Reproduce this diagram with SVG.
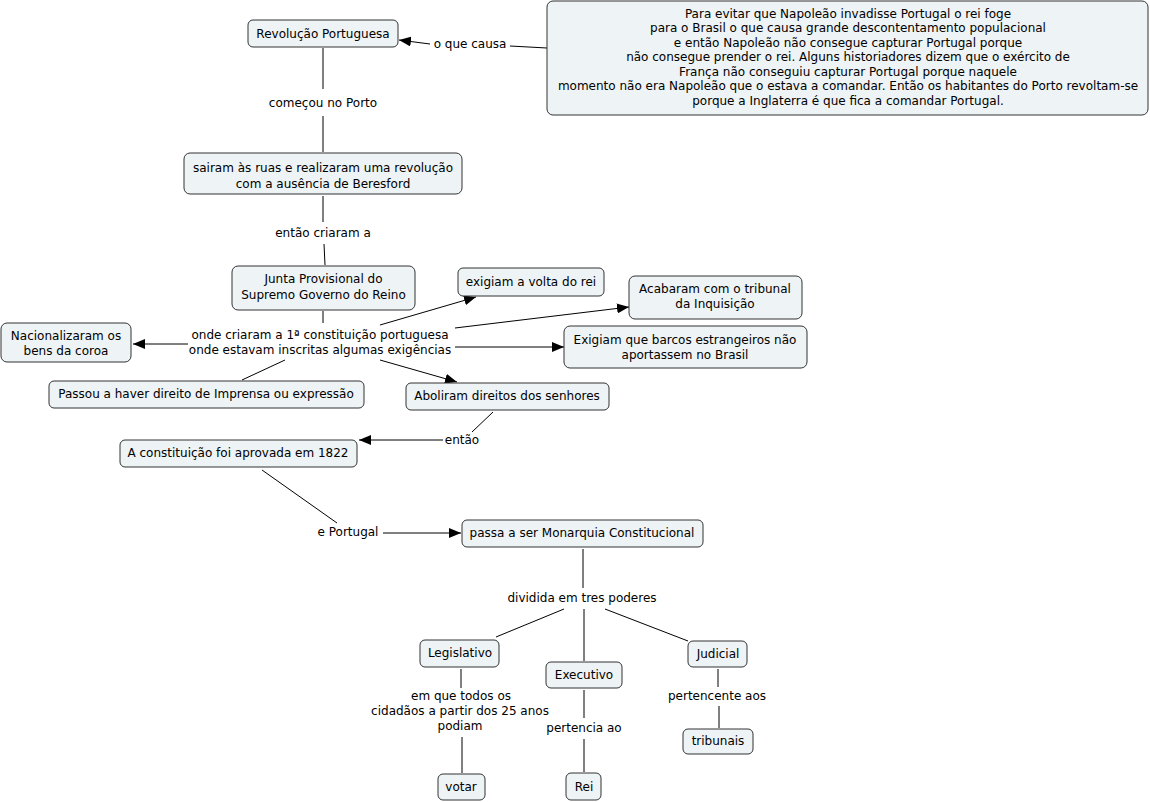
<svg xmlns="http://www.w3.org/2000/svg" width="1150" height="802" viewBox="0 0 1150 802">
<defs>
<marker id="arr" viewBox="0 0 12 10" refX="12" refY="5" markerWidth="12" markerHeight="10" markerUnits="userSpaceOnUse" orient="auto">
<path d="M0,0 L12,5 L0,10 z" fill="#000"/>
</marker>
</defs>
<style>
.box{fill:#eef3f5;stroke:#333;stroke-width:1}
text{font-family:"DejaVu Sans","Verdana",sans-serif;font-size:12px;fill:#000;text-anchor:middle}
.ln{stroke:#000;stroke-width:1;fill:none}
.ar{stroke:#000;stroke-width:1;fill:none;marker-end:url(#arr)}
</style>
<rect width="1150" height="802" fill="#fff"/>
<g id="connectors">
<line class="ar" x1="430" y1="44" x2="399" y2="40"/>
<line class="ln" x1="510" y1="46" x2="547" y2="48"/>
<line class="ln" x1="323" y1="48" x2="323" y2="89"/>
<line class="ln" x1="323" y1="116" x2="323" y2="152"/>
<line class="ln" x1="323" y1="196" x2="323" y2="222"/>
<line class="ln" x1="324" y1="244" x2="325" y2="265"/>
<line class="ln" x1="323" y1="311" x2="323" y2="323"/>
<line class="ar" x1="380" y1="325" x2="476" y2="297"/>
<line class="ar" x1="455" y1="328" x2="629" y2="307"/>
<line class="ar" x1="455" y1="347" x2="564" y2="347"/>
<line class="ar" x1="380" y1="360" x2="457" y2="382"/>
<line class="ar" x1="188" y1="344" x2="133" y2="344"/>
<line class="ln" x1="285" y1="360" x2="242" y2="380"/>
<line class="ln" x1="493" y1="412" x2="472" y2="432"/>
<line class="ar" x1="443" y1="440" x2="359" y2="440"/>
<line class="ln" x1="262" y1="470" x2="337" y2="523"/>
<line class="ar" x1="383" y1="533" x2="461" y2="533"/>
<line class="ln" x1="583" y1="549" x2="583" y2="588"/>
<line class="ln" x1="564" y1="609" x2="496" y2="637"/>
<line class="ln" x1="584" y1="609" x2="584" y2="661"/>
<line class="ln" x1="605" y1="609" x2="688" y2="641"/>
<line class="ln" x1="461" y1="669" x2="461" y2="688"/>
<line class="ln" x1="462" y1="737" x2="462" y2="773"/>
<line class="ln" x1="584" y1="690" x2="584" y2="718"/>
<line class="ln" x1="584" y1="739" x2="584" y2="772"/>
<line class="ln" x1="718" y1="669" x2="718" y2="687"/>
<line class="ln" x1="719" y1="706" x2="719" y2="728"/>
</g>
<g id="link-labels">
<text x="470" y="48">o que causa</text>
<text x="323" y="107">começou no Porto</text>
<text x="323" y="237">então criaram a</text>
<text x="320" y="339">onde criaram a 1ª constituição portuguesa</text>
<text x="320" y="354">onde estavam inscritas algumas exigências</text>
<text x="462" y="444">então</text>
<text x="348" y="536">e Portugal</text>
<text x="582" y="602">dividida em tres poderes</text>
<text x="461" y="700">em que todos os</text>
<text x="460" y="715">cidadãos a partir dos 25 anos</text>
<text x="460" y="730">podiam</text>
<text x="584" y="732">pertencia ao</text>
<text x="717" y="700">pertencente aos</text>
</g>
<g id="n-revolucao">
<rect class="box" x="248" y="20" width="150" height="27" rx="5"/>
<text x="323" y="38">Revolução Portuguesa</text>
</g>
<g id="n-napoleao">
<rect class="box" x="547" y="1" width="601" height="114" rx="6"/>
<text x="848" y="18">Para evitar que Napoleão invadisse Portugal o rei foge</text>
<text x="848" y="32">para o Brasil o que causa grande descontentamento populacional</text>
<text x="848" y="47">e então Napoleão não consegue capturar Portugal porque</text>
<text x="848" y="61">não consegue prender o rei. Alguns historiadores dizem que o exército de</text>
<text x="848" y="76">França não conseguiu capturar Portugal porque naquele</text>
<text x="848" y="90">momento não era Napoleão que o estava a comandar. Então os habitantes do Porto revoltam-se</text>
<text x="848" y="105">porque a Inglaterra é que fica a comandar Portugal.</text>
</g>
<g id="n-sairam">
<rect class="box" x="184" y="153" width="278" height="41" rx="6"/>
<text x="323" y="172">sairam às ruas e realizaram uma revolução</text>
<text x="323" y="188">com a ausência de Beresford</text>
</g>
<g id="n-junta">
<rect class="box" x="232" y="266" width="183" height="44" rx="6"/>
<text x="323.5" y="283">Junta Provisional do</text>
<text x="323.5" y="299">Supremo Governo do Reino</text>
</g>
<g id="n-exigiam-rei">
<rect class="box" x="458" y="268" width="146" height="28" rx="5"/>
<text x="531" y="286">exigiam a volta do rei</text>
</g>
<g id="n-inquisicao">
<rect class="box" x="629" y="276" width="173" height="43" rx="6"/>
<text x="715" y="293">Acabaram com o tribunal</text>
<text x="715" y="308">da Inquisição</text>
</g>
<g id="n-barcos">
<rect class="box" x="564" y="326" width="243" height="42" rx="6"/>
<text x="685" y="344">Exigiam que barcos estrangeiros não</text>
<text x="685" y="359">aportassem no Brasil</text>
</g>
<g id="n-nacionalizaram">
<rect class="box" x="1" y="323" width="130" height="39" rx="6"/>
<text x="66" y="340">Nacionalizaram os</text>
<text x="66" y="355">bens da coroa</text>
</g>
<g id="n-imprensa">
<rect class="box" x="49" y="381" width="315" height="27" rx="5"/>
<text x="206" y="398">Passou a haver direito de Imprensa ou expressão</text>
</g>
<g id="n-aboliram">
<rect class="box" x="406" y="383" width="203" height="27" rx="5"/>
<text x="507" y="400">Aboliram direitos dos senhores</text>
</g>
<g id="n-1822">
<rect class="box" x="120" y="440" width="237" height="27" rx="5"/>
<text x="238" y="457">A constituição foi aprovada em 1822</text>
</g>
<g id="n-monarquia">
<rect class="box" x="462" y="520" width="241" height="27" rx="5"/>
<text x="582" y="537">passa a ser Monarquia Constitucional</text>
</g>
<g id="n-legislativo">
<rect class="box" x="420" y="640" width="79" height="27" rx="5"/>
<text x="460" y="657">Legislativo</text>
</g>
<g id="n-executivo">
<rect class="box" x="546" y="662" width="76" height="26" rx="5"/>
<text x="584" y="679">Executivo</text>
</g>
<g id="n-judicial">
<rect class="box" x="688" y="641" width="59" height="26" rx="5"/>
<text x="718" y="658">Judicial</text>
</g>
<g id="n-tribunais">
<rect class="box" x="683" y="729" width="70" height="25" rx="5"/>
<text x="718" y="745">tribunais</text>
</g>
<g id="n-votar">
<rect class="box" x="438" y="774" width="47" height="26" rx="5"/>
<text x="461" y="791">votar</text>
</g>
<g id="n-rei">
<rect class="box" x="566" y="773" width="35" height="27" rx="5"/>
<text x="584" y="791">Rei</text>
</g>
</svg>
